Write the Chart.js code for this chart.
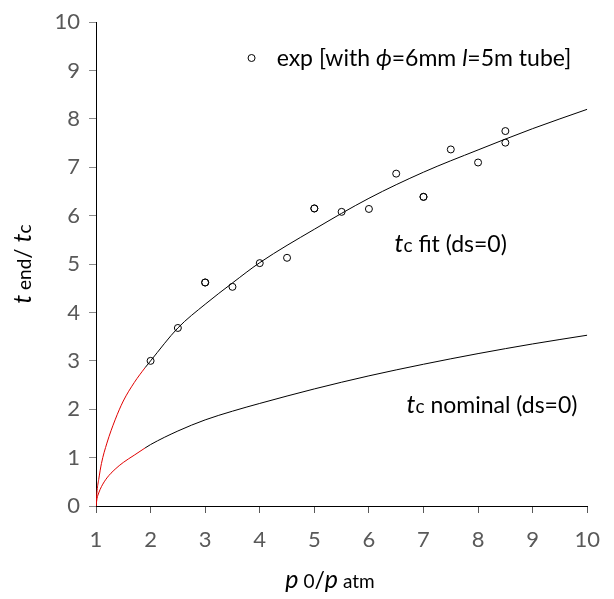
<!DOCTYPE html>
<html>
<head>
<meta charset="utf-8">
<script src="https://cdn.jsdelivr.net/npm/chart.js@4"></script>
<style>
html, body { margin: 0; padding: 0; background: #fff; }
#wrap { width: 614px; height: 599px; }
</style>
</head>
<body>
<div id="wrap"><canvas id="chart"></canvas></div>
<script>
// measured points (repeated ones are drawn twice in the original, they look bolder)
const expX = [2, 2.5, 3, 3, 3.5, 4, 4.5, 5, 5, 5.5, 6, 6.5, 7, 7, 7.5, 8, 8.5, 8.5];
const expY = [3.0, 3.68, 4.62, 4.62, 4.53, 5.02, 5.13, 6.15, 6.15, 6.08, 6.14, 6.87, 6.39, 6.39, 7.37, 7.10, 7.75, 7.51];

// curves
const curveX   = [1, 1.02, 1.05, 1.1, 1.2, 1.35, 1.5, 1.7, 1.9, 2, 2.5, 3, 3.5, 4, 5, 6, 7, 8, 9, 10];
const fitY     = [0, 0.32, 0.55, 0.88, 1.3, 1.78, 2.17, 2.55, 2.86, 3.0, 3.68, 4.17, 4.61, 5.03, 5.72, 6.36, 6.9, 7.36, 7.8, 8.2];
const nominalY = [0, 0.16, 0.27, 0.4, 0.58, 0.76, 0.9, 1.05, 1.2, 1.27, 1.55, 1.78, 1.96, 2.12, 2.42, 2.69, 2.93, 3.15, 3.35, 3.53];
const redUntil = 1.9;

const xTicks = [1, 2, 3, 4, 5, 6, 7, 8, 9, 10];
const yTicks = [0, 1, 2, 3, 4, 5, 6, 7, 8, 9, 10];

const FONT = 'Lato, "Open Sans", sans-serif';
const RED = '#e00000';

function pts(xs, ys) {
    return xs.map((x, i) => ({ x: x, y: ys[i] }));
}

function curve(label, ys) {
    return {
        label: label,
        data: pts(curveX, ys),
        showLine: true,
        borderColor: '#000',
        borderWidth: 1,
        pointRadius: 0,
        cubicInterpolationMode: 'monotone',
        segment: {
            borderColor: ctx => ctx.p1.parsed.x <= redUntil ? RED : '#000'
        }
    };
}

// draw text made of pieces with different size / italic
function rich(ctx, parts, x, y, align) {
    let w = 0;
    for (const p of parts) {
        ctx.font = (p[2] ? 'italic ' : '') + p[1] + 'px ' + FONT;
        w += ctx.measureText(p[0]).width;
    }
    let cx = align === 'center' ? x - w / 2 : x;
    ctx.textAlign = 'left';
    ctx.textBaseline = 'alphabetic';
    for (const p of parts) {
        ctx.font = (p[2] ? 'italic ' : '') + p[1] + 'px ' + FONT;
        ctx.fillText(p[0], cx, y);
        cx += ctx.measureText(p[0]).width;
    }
}

const labels = {
    id: 'labels',
    afterDraw(chart) {
        const ctx = chart.ctx;
        const xs = chart.scales.x, ys = chart.scales.y;
        ctx.save();
        ctx.fillStyle = '#000';

        // legend
        ctx.beginPath();
        ctx.arc(xs.getPixelForValue(3.85), ys.getPixelForValue(9.26), 3.5, 0, Math.PI * 2);
        ctx.strokeStyle = '#000';
        ctx.lineWidth = 1;
        ctx.stroke();
        rich(ctx, [['exp [with ', 23], ['ϕ', 23, true], ['=6mm ', 23], ['l', 23, true], ['=5m tube]', 23]],
            xs.getPixelForValue(4.31), ys.getPixelForValue(9.26) + 8, 'left');

        // curve names
        rich(ctx, [['t', 25, true], ['c', 19], [' fit (ds=0)', 23]],
            xs.getPixelForValue(6.47), ys.getPixelForValue(5.24), 'left');
        rich(ctx, [['t', 25, true], ['c', 19], [' nominal (ds=0)', 23]],
            xs.getPixelForValue(6.69), ys.getPixelForValue(1.92), 'left');

        // axis titles
        rich(ctx, [['p', 25, true], [' 0', 19], ['/', 23], ['p', 25, true], [' atm', 19]],
            330, 588, 'center');

        ctx.translate(31, (chart.chartArea.top + chart.chartArea.bottom) / 2);
        ctx.rotate(-Math.PI / 2);
        rich(ctx, [['t', 25, true], [' end', 19], ['/ ', 23], ['t', 25, true], ['c', 19]], 0, 0, 'center');
        ctx.restore();
    }
};

new Chart('chart', {
    type: 'scatter',
    data: {
        datasets: [
            {
                label: 'exp',
                data: pts(expX, expY),
                pointStyle: 'circle',
                pointRadius: 3.5,
                pointBorderWidth: 1,
                pointBorderColor: '#000',
                pointBackgroundColor: 'rgba(0,0,0,0)'
            },
            curve('tc fit', fitY),
            curve('tc nominal', nominalY)
        ]
    },
    options: {
        responsive: true,
        maintainAspectRatio: false,
        animation: false,
        layout: { padding: { top: 20, right: 25, left: 0, bottom: 0 } },
        plugins: {
            legend: { display: false },
            tooltip: { enabled: false }
        },
        scales: {
            x: {
                type: 'linear',
                min: 1,
                max: 10,
                afterBuildTicks: s => { s.ticks = xTicks.map(v => ({ value: v })); },
                afterFit: s => { s.height = 93; },
                ticks: { color: '#595959', font: { family: FONT, size: 22 }, padding: 14 },
                grid: { drawOnChartArea: false, tickLength: 7, tickColor: '#595959' },
                border: { color: '#000', width: 1 }
            },
            y: {
                min: 0,
                max: 10,
                afterBuildTicks: s => { s.ticks = yTicks.map(v => ({ value: v })); },
                afterFit: s => { s.width = 96; },
                ticks: { color: '#595959', font: { family: FONT, size: 22 }, padding: 9 },
                grid: { drawOnChartArea: false, tickLength: 7, tickColor: '#8a8a8a' },
                border: { color: '#000', width: 1 }
            }
        }
    },
    plugins: [labels]
});
</script>
</body>
</html>
